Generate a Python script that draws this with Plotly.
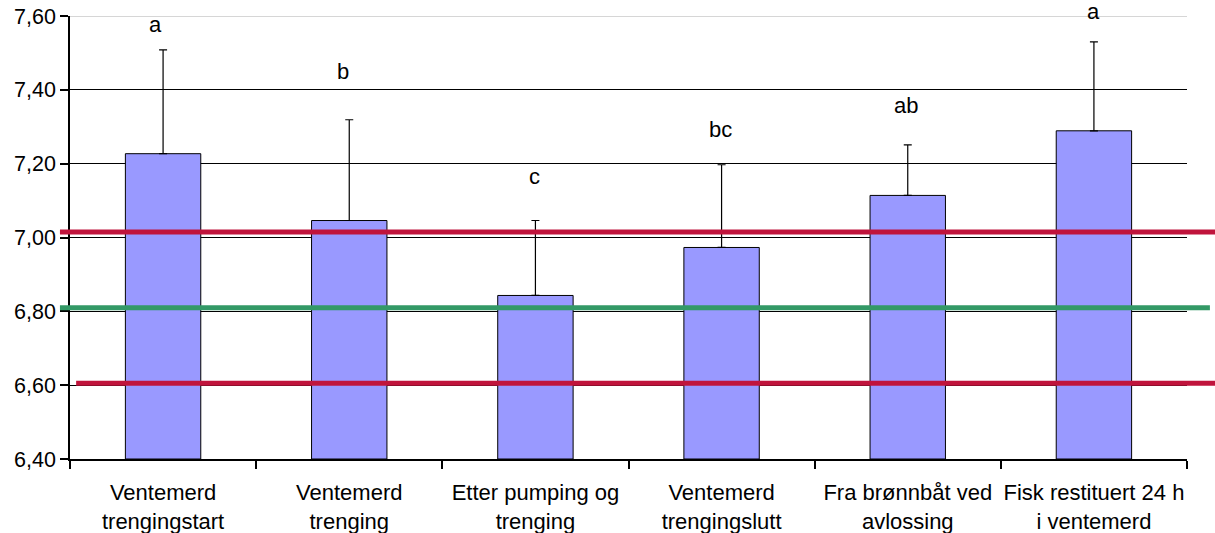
import plotly.graph_objects as go

categories = [
    "Ventemerd<br>trengingstart",
    "Ventemerd<br>trenging",
    "Etter pumping og<br>trenging",
    "Ventemerd<br>trengingslutt",
    "Fra brønnbåt ved<br>avlossing",
    "Fisk restituert 24 h<br>i ventemerd",
]
means = [7.227, 7.046, 6.843, 6.973, 7.114, 7.289]
err_plus = [0.281, 0.273, 0.203, 0.224, 0.137, 0.241]
letters = ["a", "b", "c", "bc", "ab", "a"]
letter_y = [7.578, 7.449, 7.165, 7.292, 7.357, 7.611]
letter_dx = [-8, -6, -1, -1, -2, 0]
ref_lines = [7.015, 6.81, 6.605]
ref_colors = ["#C0143C", "#339966", "#C0143C"]
ref_x0 = [-0.009, -0.009, 0.0055]
ref_x1 = [1.03, 1.0205, 1.03]

yticks = [6.40, 6.60, 6.80, 7.00, 7.20, 7.40, 7.60]
ytick_text = [f"{v:.2f}".replace(".", ",") for v in yticks]
Y0, Y1 = 6.4, 7.6

FONT = "Liberation Sans, Arial, sans-serif"

fig = go.Figure()
fig.add_trace(go.Bar(
    x=categories,
    y=[m - Y0 for m in means],
    base=Y0,
    marker=dict(color="#9999FF", line=dict(color="black", width=1)),
    error_y=dict(type="data", symmetric=False, array=err_plus,
                 arrayminus=[0] * len(means), width=4, thickness=1.2, color="black"),
    hoverinfo="skip",
))

for lab, ly, dx, cat in zip(letters, letter_y, letter_dx, categories):
    fig.add_annotation(x=cat, y=(ly - Y0) / (Y1 - Y0), text=lab, showarrow=False,
                       font=dict(family=FONT, size=22, color="black"),
                       xref="x", yref="paper", yanchor="middle", xanchor="center",
                       xshift=dx)

for v, c, a0, a1 in zip(ref_lines, ref_colors, ref_x0, ref_x1):
    fig.add_shape(type="line", xref="paper", yref="y", x0=a0, x1=a1, y0=v, y1=v,
                  line=dict(color=c, width=5), layer="above")

fig.add_shape(type="line", xref="paper", yref="y", x0=0, x1=1, y0=Y1, y1=Y1,
              line=dict(color="#C8C8C8", width=1.5), layer="above")

fig.update_layout(
    width=1215, height=533,
    margin=dict(l=70, r=28, t=16, b=74),
    paper_bgcolor="white", plot_bgcolor="white",
    bargap=0.595,
    showlegend=False,
    font=dict(family=FONT, size=21, color="black"),
)
fig.update_yaxes(
    range=[Y0, Y1], tickvals=yticks, ticktext=ytick_text,
    showgrid=True, gridcolor="black", gridwidth=1,
    showline=True, linecolor="black", linewidth=1.5,
    ticks="outside", ticklen=8, tickcolor="black", tickwidth=1.5,
    zeroline=False, automargin=False,
    tickfont=dict(family=FONT, size=21.5, color="black"),
)
fig.update_xaxes(
    showgrid=False, showline=True, linecolor="black", linewidth=1.5,
    ticks="outside", ticklen=8, tickcolor="black", tickwidth=1.5,
    tickson="boundaries", automargin=False, ticklabelstandoff=13, tickangle=0,
    tickfont=dict(family=FONT, size=22, color="black"),
)

fig.write_html("out.html", config={"displayModeBar": False},
               post_script="document.body.style.margin='0px';document.body.style.overflow='hidden';")
